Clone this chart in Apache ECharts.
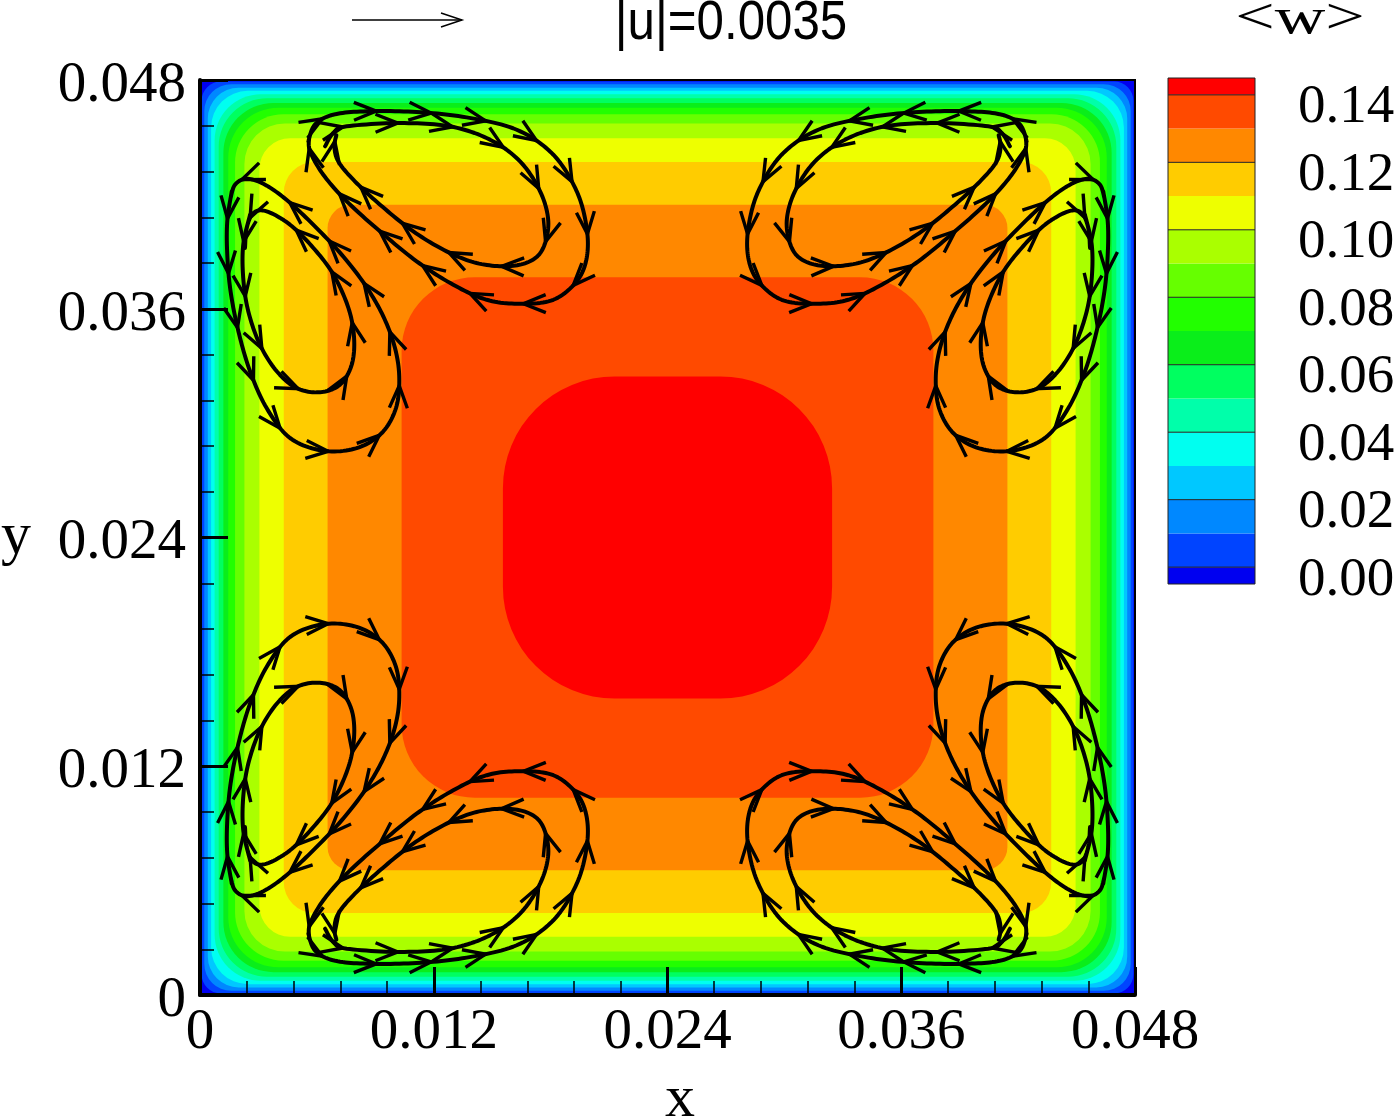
<!DOCTYPE html>
<html lang="en">
<head>
  <meta charset="UTF-8">
  <title>Mean axial velocity &lt;w&gt; and secondary flow in a square duct</title>
  <script src="https://cdn.jsdelivr.net/npm/echarts@6/dist/echarts.min.js"></script>
  <style>
    html, body { margin: 0; padding: 0; background: #fff; }
    #chart { width: 1400px; height: 1120px; }
  </style>
</head>
<body>
<div id="chart"></div>
<script>
  // duct cross-section and axis ticks
  const xMax = 0.048, yMax = 0.048;
  const tickStep = 0.012;

  // contour levels of <w>, distance of each level line from the walls, and the
  // rounding of that line in the corners (both in duct units)
  const levels = [0.00, 0.01, 0.02, 0.03, 0.04, 0.05, 0.06, 0.07, 0.08, 0.09, 0.10, 0.11, 0.12, 0.13, 0.14];
  const wallDist = [0.00008, 0.00022, 0.00040, 0.00057, 0.00075, 0.00096, 0.00120, 0.00145,
                    0.00180, 0.00228, 0.00305, 0.00430, 0.00655, 0.01035, 0.01555];
  const cornerRadius = [0.0010, 0.0014, 0.0016, 0.0019, 0.0024, 0.0025, 0.0026, 0.0026,
                        0.0025, 0.0021, 0.0016, 0.0016, 0.0012, 0.0038, 0.0058];
  // band colours: [0] is below 0.00, [k + 1] is above levels[k]
  const bandColors = ['#0000F0', '#0044FF', '#0088FF', '#00C8FF', '#00FFF0', '#00FFAA', '#00FF60', '#0AEE1A',
                      '#22FF00', '#66FF00', '#AAFF00', '#EEFF00', '#FFCC00', '#FF8800', '#FF4A00', '#FF0000'];

  // colour bar
  const barMin = -0.005, barMax = 0.145;
  const barLabels = [0.00, 0.02, 0.04, 0.06, 0.08, 0.10, 0.12, 0.14];
  const refVectorLabel = '|u|=0.0035';

  // streamtraces in the bottom-left quadrant [x, y]: vortex on the bottom wall
  const bottomOuter = [
    [0.00556, 0.00322], [0.00590, 0.00234], [0.00684, 0.00182], [0.00856, 0.00164],
    [0.01112, 0.00168], [0.01369, 0.00196], [0.01626, 0.00261], [0.01814, 0.00392],
    [0.01934, 0.00584], [0.01985, 0.00776], [0.01985, 0.00934], [0.01934, 0.01056],
    [0.01814, 0.01153], [0.01643, 0.01174], [0.01472, 0.01153], [0.01300, 0.01074],
    [0.01112, 0.00951], [0.00924, 0.00794], [0.00753, 0.00636], [0.00633, 0.00497],
    [0.00565, 0.00374], [0.00560, 0.00305]
  ];
  const bottomInner = [
    [0.00642, 0.00348], [0.00684, 0.00278], [0.00753, 0.00243], [0.01027, 0.00226],
    [0.01283, 0.00243], [0.01489, 0.00313], [0.01643, 0.00427], [0.01746, 0.00584],
    [0.01788, 0.00741], [0.01762, 0.00881], [0.01694, 0.00951], [0.01574, 0.00977],
    [0.01420, 0.00960], [0.01266, 0.00899], [0.01095, 0.00794], [0.00924, 0.00654],
    [0.00787, 0.00523], [0.00710, 0.00427], [0.00690, 0.00350], [0.00700, 0.00290]
  ];
  // ... and vortex on the left wall
  const leftOuter = [
    [0.00163, 0.00584], [0.00140, 0.00741], [0.00140, 0.00916], [0.00157, 0.01109],
    [0.00197, 0.01318], [0.00257, 0.01528], [0.00342, 0.01721], [0.00462, 0.01878],
    [0.00633, 0.01945], [0.00804, 0.01931], [0.00933, 0.01852], [0.01006, 0.01721],
    [0.01023, 0.01563], [0.01001, 0.01406], [0.00941, 0.01240], [0.00847, 0.01074],
    [0.00727, 0.00916], [0.00590, 0.00768], [0.00453, 0.00636], [0.00334, 0.00549],
    [0.00240, 0.00518], [0.00180, 0.00549], [0.00157, 0.00619]
  ];
  const leftInner = [
    [0.00257, 0.00707], [0.00222, 0.00864], [0.00222, 0.01039], [0.00248, 0.01214],
    [0.00308, 0.01389], [0.00394, 0.01528], [0.00496, 0.01616], [0.00616, 0.01638],
    [0.00719, 0.01598], [0.00779, 0.01493], [0.00791, 0.01353], [0.00762, 0.01196],
    [0.00685, 0.01021], [0.00582, 0.00881], [0.00462, 0.00759], [0.00342, 0.00689],
    [0.00274, 0.00698], [0.00240, 0.00776], [0.00231, 0.00881]
  ];

  // the four quadrants are mirror images of each other
  const baseTraces = [bottomOuter, bottomInner, leftOuter, leftInner];
  const traces = [];
  [[false, false], [true, false], [false, true], [true, true]].forEach(([fx, fy]) => {
    baseTraces.forEach(t => {
      traces.push(t.map(p => [fx ? xMax - p[0] : p[0], fy ? yMax - p[1] : p[1]]));
    });
  });

  const serif = 'Liberation Serif, Times New Roman, serif';
  const arrowGap = 55, arrowLen = 24, arrowAngle = 22 * Math.PI / 180;

  function smooth(pts, steps) {
    const out = [];
    for (let i = 0; i < pts.length - 1; i++) {
      const p0 = pts[Math.max(i - 1, 0)], p1 = pts[i], p2 = pts[i + 1], p3 = pts[Math.min(i + 2, pts.length - 1)];
      for (let s = 0; s < steps; s++) {
        const t = s / steps, t2 = t * t, t3 = t2 * t;
        out.push([0, 1].map(k => 0.5 * (2 * p1[k] + (p2[k] - p0[k]) * t +
          (2 * p0[k] - 5 * p1[k] + 4 * p2[k] - p3[k]) * t2 +
          (3 * p1[k] - p0[k] - 3 * p2[k] + p3[k]) * t3)));
      }
    }
    out.push(pts[pts.length - 1]);
    return out;
  }

  function chevron(x, y, ux, uy) {
    const wing = a => {
      const bx = -ux, by = -uy;
      return [x + arrowLen * (bx * Math.cos(a) - by * Math.sin(a)),
              y + arrowLen * (bx * Math.sin(a) + by * Math.cos(a))];
    };
    return {
      type: 'polyline',
      shape: { points: [wing(arrowAngle), [x, y], wing(-arrowAngle)] },
      style: { stroke: '#000', lineWidth: 3.4, fill: null }
    };
  }

  function renderTrace(params, api) {
    const pts = traces[api.value(2)].map(p => api.coord(p));
    const path = smooth(pts, 12);
    const children = [{
      type: 'polyline',
      shape: { points: path },
      style: { stroke: '#000', lineWidth: 4, fill: null, lineJoin: 'round', lineCap: 'round' }
    }];
    let acc = 0, next = arrowGap * 0.5;
    for (let i = 1; i < path.length; i++) {
      const dx = path[i][0] - path[i - 1][0], dy = path[i][1] - path[i - 1][1];
      const seg = Math.hypot(dx, dy);
      if (seg === 0) continue;
      while (acc + seg >= next) {
        const t = (next - acc) / seg;
        children.push(chevron(path[i - 1][0] + dx * t, path[i - 1][1] + dy * t, dx / seg, dy / seg));
        next += arrowGap;
      }
      acc += seg;
    }
    return { type: 'group', children: children };
  }

  function renderContour(params, api) {
    const d = api.value(0);
    const tl = api.coord([d, yMax - d]);
    const br = api.coord([xMax - d, d]);
    const rs = api.size([api.value(1), api.value(1)]);
    return {
      type: 'rect',
      shape: { x: tl[0], y: tl[1], width: br[0] - tl[0], height: br[1] - tl[1], r: (rs[0] + rs[1]) / 2 },
      style: { fill: bandColors[api.value(2)] }
    };
  }

  const barEdges = [barMin].concat(levels, [barMax]);
  function renderBar(params, api) {
    const lo = api.value(0), hi = api.value(1);
    const top = api.coord([0, hi]), bot = api.coord([1, lo]);
    const children = [{
      type: 'rect',
      shape: { x: top[0], y: top[1], width: bot[0] - top[0], height: bot[1] - top[1] },
      style: { fill: bandColors[api.value(2)] }
    }];
    if (barLabels.some(v => Math.abs(v - lo) < 1e-9)) {
      children.push({
        type: 'line',
        shape: { x1: top[0], y1: bot[1], x2: bot[0], y2: bot[1] },
        style: { stroke: '#222', lineWidth: 1 }
      });
    }
    return { type: 'group', children: children };
  }

  const tickFmt = v => (v === 0 ? '0' : v.toFixed(3));
  const axisCommon = {
    type: 'value', min: 0, interval: tickStep, z: 10,
    axisLine: { lineStyle: { color: '#000', width: 4 } },
    axisTick: { inside: true, length: 28, lineStyle: { color: '#000', width: 3 } },
    minorTick: { show: true, splitNumber: 5, length: 14, lineStyle: { color: '#000', width: 1.5 } },
    splitLine: { show: false }
  };

  const chart = echarts.init(document.getElementById('chart'));
  chart.setOption({
    animation: false,
    backgroundColor: '#fff',
    grid: [
      { left: 200, top: 80, width: 935, height: 915, show: true, borderColor: '#000', borderWidth: 2, z: 10 },
      { left: 1168, top: 78, width: 87, height: 506, show: true, borderColor: '#222', borderWidth: 1, z: 10 }
    ],
    xAxis: [
      Object.assign({}, axisCommon, {
        gridIndex: 0, max: xMax,
        axisLabel: { formatter: tickFmt, fontFamily: serif, fontSize: 57, color: '#000', margin: 10 }
      }),
      { gridIndex: 1, type: 'value', min: 0, max: 1, show: false }
    ],
    yAxis: [
      Object.assign({}, axisCommon, {
        gridIndex: 0, max: yMax,
        axisLabel: {
          formatter: tickFmt, fontFamily: serif, fontSize: 57, color: '#000', margin: 14,
          verticalAlign: 'top', lineHeight: 12
        }
      }),
      {
        gridIndex: 1, type: 'value', min: barMin, max: barMax, position: 'right',
        axisLine: { show: false }, axisTick: { show: false }, splitLine: { show: false },
        axisLabel: {
          customValues: barLabels, formatter: v => v.toFixed(2),
          fontFamily: serif, fontSize: 55, color: '#000', margin: 43,
          verticalAlign: 'top', lineHeight: 26
        }
      }
    ],
    series: [
      {
        type: 'custom', xAxisIndex: 0, yAxisIndex: 0, z: 1, silent: true,
        renderItem: renderContour,
        data: [[0, 0, 0]].concat(levels.map((v, i) => [wallDist[i], cornerRadius[i], i + 1]))
      },
      {
        type: 'custom', xAxisIndex: 0, yAxisIndex: 0, z: 3, silent: true,
        renderItem: renderTrace,
        data: traces.map((t, i) => [xMax / 2, yMax / 2, i])
      },
      {
        type: 'custom', xAxisIndex: 1, yAxisIndex: 1, z: 1, silent: true,
        renderItem: renderBar,
        data: barEdges.slice(0, -1).map((lo, i) => [lo, barEdges[i + 1], i])
      }
    ],
    graphic: [
      { type: 'line', shape: { x1: 352, y1: 20, x2: 462, y2: 20 }, style: { stroke: '#000', lineWidth: 1.5 } },
      { type: 'polyline', shape: { points: [[441, 13], [462, 20], [441, 27]] }, style: { stroke: '#000', lineWidth: 1.5, fill: null } },
      {
        type: 'text', x: 731, y: 24, scaleX: 0.88,
        style: { text: refVectorLabel, x: 0, y: 0, textAlign: 'center', textVerticalAlign: 'middle',
                 font: '56px "Liberation Sans", Arial, sans-serif', fill: '#000' }
      },
      {
        type: 'text', x: 1300, y: 20, scaleX: 1.4,
        style: { text: '<w>', x: 0, y: 0, textAlign: 'center', textVerticalAlign: 'middle',
                 font: '50px "Liberation Serif", serif', fill: '#000' }
      },
      {
        type: 'text', x: 680, y: 1100,
        style: { text: 'x', x: 0, y: 0, textAlign: 'center', textVerticalAlign: 'middle',
                 font: '60px "Liberation Serif", serif', fill: '#000' }
      },
      {
        type: 'text', x: 16, y: 537,
        style: { text: 'y', x: 0, y: 0, textAlign: 'center', textVerticalAlign: 'middle',
                 font: '60px "Liberation Serif", serif', fill: '#000' }
      }
    ]
  });
</script>
</body>
</html>
